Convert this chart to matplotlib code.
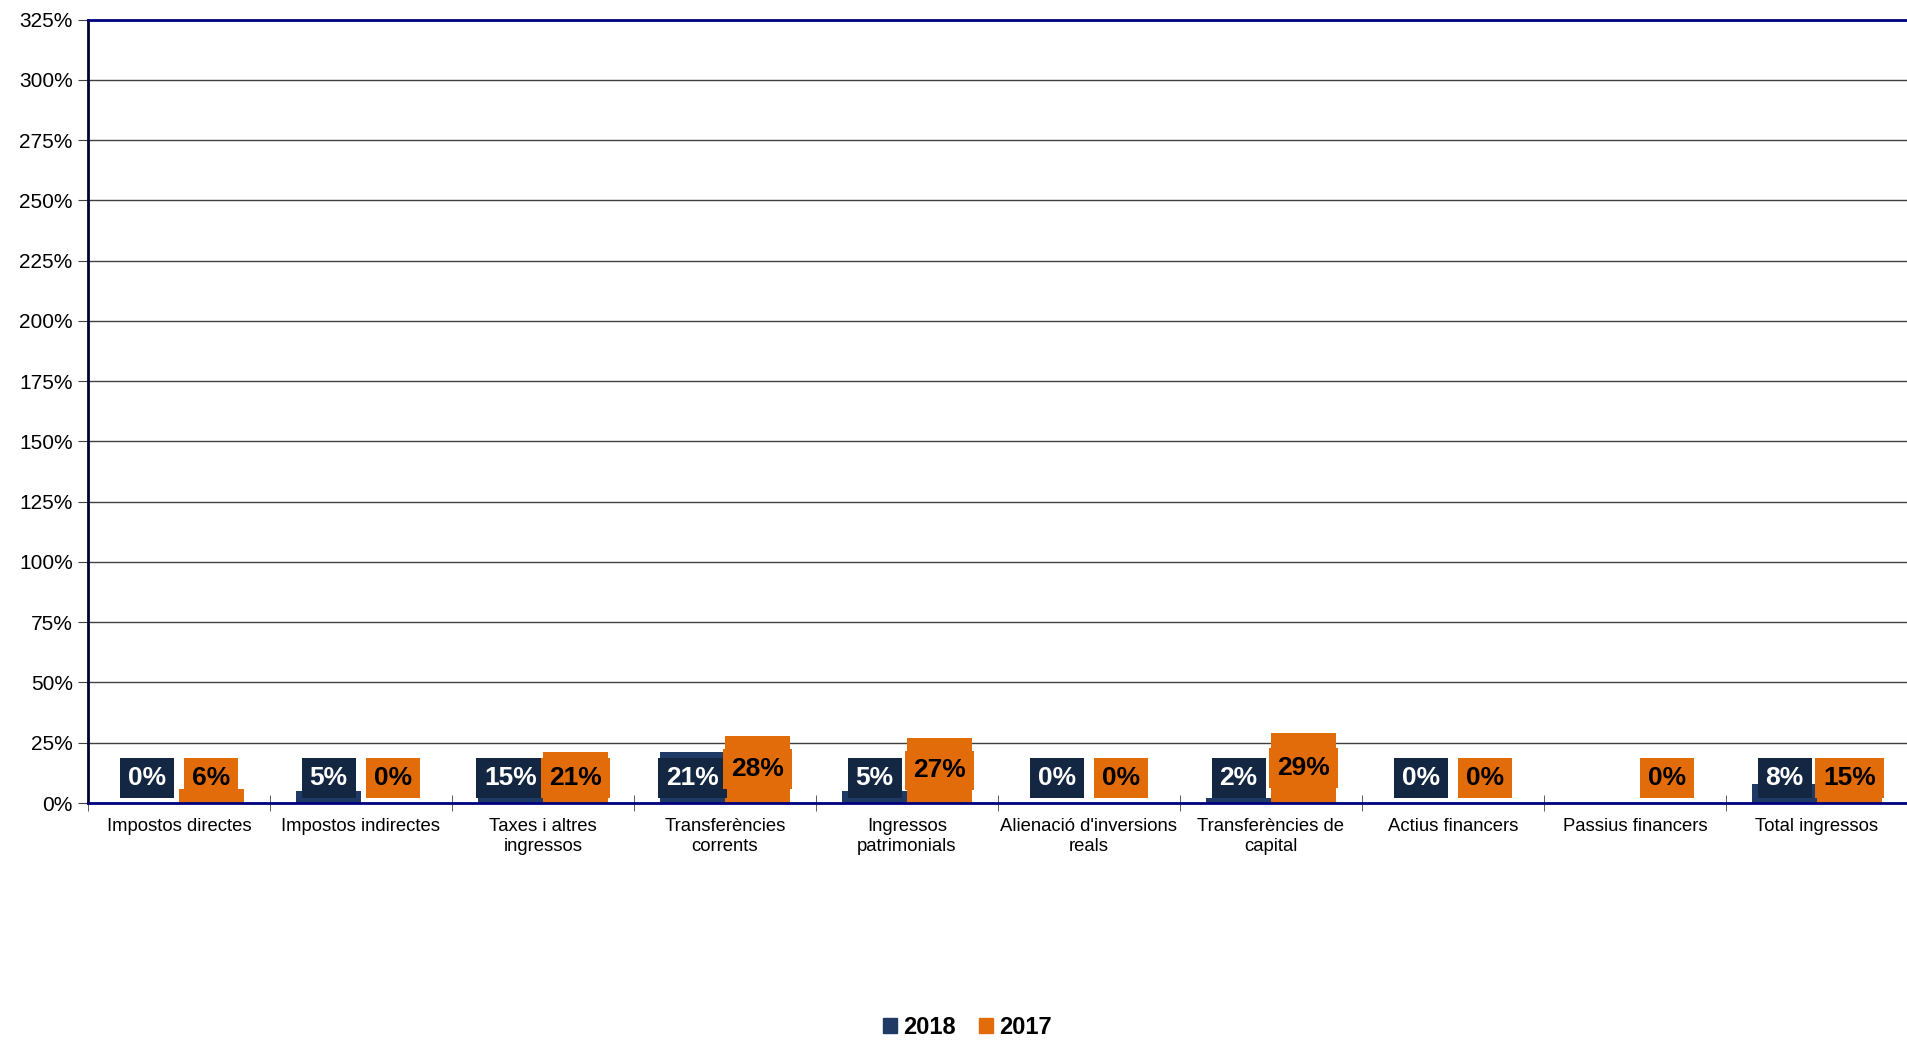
import matplotlib.pyplot as plt
import matplotlib.ticker as mticker
from matplotlib.patches import Patch
import numpy as np

plt.rcParams['font.family'] = ['Liberation Sans', 'DejaVu Sans']

categories = ["Impostos directes", "Impostos indirectes", "Taxes i altres\ningressos",
              "Transferències\ncorrents", "Ingressos\npatrimonials",
              "Alienació d'inversions\nreals", "Transferències de\ncapital",
              "Actius financers", "Passius financers", "Total ingressos"]
v2018 = [0.00, 0.05, 0.15, 0.21, 0.05, 0.00, 0.02, 0.00, np.nan, 0.08]
v2017 = [0.06, 0.00, 0.21, 0.28, 0.27, 0.00, 0.29, 0.00, 0.00, 0.15]

c2018 = '#1f3a64'
c2018_box = '#132742'
c2017 = '#e36c0a'

fig = plt.figure(figsize=(19.08, 10.41), dpi=100)
ax = fig.add_axes([0.0461, 0.2286, 0.9539, 0.7526])

x = np.arange(len(categories))
w = 0.355
ax.bar(x - w / 2, np.nan_to_num(v2018), w, color=c2018, zorder=2)
ax.bar(x + w / 2, v2017, w, color=c2017, zorder=2)

# data labels, centred in the bar but kept above a minimum height
for i in range(len(categories)):
    if not np.isnan(v2018[i]):
        ax.text(x[i] - w / 2, max(v2018[i] / 2, 0.105), f"{v2018[i]*100:.0f}%",
                ha='center', va='center', fontsize=19, fontweight='bold', color='white',
                bbox=dict(boxstyle='square,pad=0.3', fc=c2018_box, ec='none'), zorder=3)
    ax.text(x[i] + w / 2, max(v2017[i] / 2, 0.105), f"{v2017[i]*100:.0f}%",
            ha='center', va='center', fontsize=19, fontweight='bold', color='black',
            bbox=dict(boxstyle='square,pad=0.3', fc=c2017, ec='none'), zorder=4)

ax.set_xlim(-0.5, len(categories) - 0.5)
ax.set_ylim(0, 3.25)
ax.yaxis.set_major_locator(mticker.MultipleLocator(0.25))
ax.yaxis.set_major_formatter(mticker.FuncFormatter(lambda v, p: f"{v*100:.0f}%"))
ax.grid(axis='y', color='#404040', lw=1, zorder=0)

ax.set_xticks(x)
ax.set_xticklabels(categories, fontsize=13.3)
ax.set_xticks(np.arange(-0.5, len(categories)), minor=True)
ax.tick_params(axis='x', which='major', length=0, pad=11)
ax.tick_params(axis='x', which='minor', direction='inout', length=12, color='#404040')
ax.tick_params(axis='y', labelsize=15, length=7, color='#404040', pad=4)

ax.spines['right'].set_visible(False)
ax.spines['left'].set_color('#000033')
ax.spines['left'].set_linewidth(2)
for s in ('top', 'bottom'):
    ax.spines[s].set_color('#000080')
    ax.spines[s].set_linewidth(2)

handles = [Patch(color=c2018, label='2018'), Patch(color=c2017, label='2017')]
fig.legend(handles=handles, loc='center', bbox_to_anchor=(0.507, 0.013), ncol=2,
           frameon=False, prop={'size': 17, 'weight': 'bold'},
           handlelength=0.6, handleheight=0.6, handletextpad=0.25, columnspacing=1.0)

fig.savefig('out.png', dpi=100)
